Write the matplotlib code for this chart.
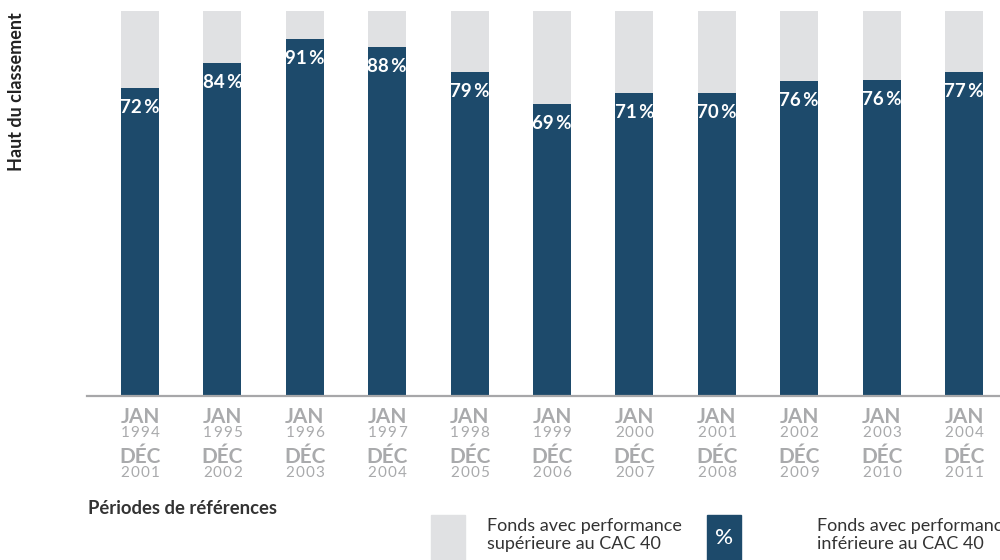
import matplotlib
matplotlib.use("Agg")
import matplotlib.pyplot as plt
from matplotlib.patches import Rectangle

plt.rcParams["font.family"] = ["Lato", "DejaVu Sans"]

# data
start_year = ["1994", "1995", "1996", "1997", "1998", "1999", "2000", "2001", "2002", "2003", "2004"]
end_year = ["2001", "2002", "2003", "2004", "2005", "2006", "2007", "2008", "2009", "2010", "2011"]
share_label = [72, 84, 91, 88, 79, 69, 71, 70, 76, 76, 77]
# drawn height of the dark part, in % of the full column (not equal to the label)
bar_level = [80.0, 86.6, 92.7, 90.6, 84.2, 75.8, 78.7, 78.7, 81.8, 82.1, 84.2]

dark = "#1d4a6b"
light = "#e0e1e3"
tick_grey = "#a9aaac"

fig = plt.figure(figsize=(10, 5.6), dpi=100)
ax = fig.add_axes([0.087, 1 - 396 / 560, 0.913, 385 / 560])

x = list(range(len(share_label)))
w = 0.461
ax.bar(x, [100] * len(x), width=w, color=light, zorder=1)
ax.bar(x, bar_level, width=w, color=dark, zorder=2)

for i, (lvl, lab) in enumerate(zip(bar_level, share_label)):
    ax.annotate(f"{lab}\u2009%", (i, lvl), xytext=(0, -14), textcoords="offset points",
                ha="center", va="center", color="white", fontsize=13.5,
                fontweight="bold", zorder=3)

ax.set_xlim(-0.643, 10.437)
ax.set_ylim(0, 100)
ax.axhline(0, color="#a7a7a9", lw=1.6, zorder=4, clip_on=False)
for s in ax.spines.values():
    s.set_visible(False)
ax.set_xticks([])
ax.set_yticks([])


def spaced(text, i, dy, step=7.2, **kw):
    # years are drawn with wide letter spacing
    n = len(text)
    for k, ch in enumerate(text):
        ax.annotate(ch, (i, 0), xytext=((k - (n - 1) / 2) * step, dy), **kw)


# stacked tick labels under each bar
for i in x:
    kw = dict(xycoords=("data", "axes fraction"), textcoords="offset points",
              ha="center", va="baseline", color=tick_grey)
    ax.annotate("JAN", (i, 0), xytext=(0, -19.4), fontsize=15, fontweight="bold", **kw)
    spaced(start_year[i], i, -29.5, fontsize=11, **kw)
    ax.annotate("DÉC", (i, 0), xytext=(0, -48.2), fontsize=15, fontweight="bold", **kw)
    spaced(end_year[i], i, -58.3, fontsize=11, **kw)

fig.text(17 / 1000, 1 - 92 / 560, "Haut du classement", rotation=90, ha="center", va="center",
         fontsize=13, fontweight="bold", color="#222222")
fig.text(88 / 1000, 1 - 509 / 560, "Périodes de références", ha="left", va="center",
         fontsize=13.3, fontweight="bold", color="#333333")

# legend
fig.patches.append(Rectangle((431 / 1000, 0), 34 / 1000, 45 / 560, transform=fig.transFigure,
                             color=light, zorder=1))
fig.patches.append(Rectangle((707 / 1000, 0), 34 / 1000, 45 / 560, transform=fig.transFigure,
                             color=dark, zorder=1))
fig.text(724 / 1000, 1 - 538 / 560, "%", ha="center", va="center", color="white",
         fontsize=16, fontweight="medium")
fig.text(487 / 1000, 1 - 535 / 560, "Fonds avec performance\nsupérieure au CAC 40",
         ha="left", va="center", fontsize=13, color="#333333", linespacing=1.1)
fig.text(817 / 1000, 1 - 535 / 560, "Fonds avec performance\ninférieure au CAC 40",
         ha="left", va="center", fontsize=13, color="#333333", linespacing=1.1)

fig.savefig("out.png", dpi=100)
